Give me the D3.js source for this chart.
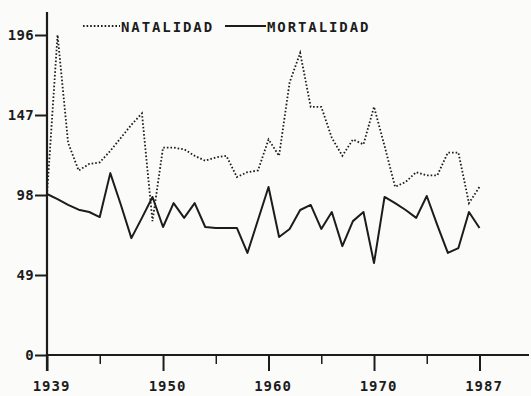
<!DOCTYPE html>
<html>
<head>
<meta charset="utf-8">
<script src="https://cdn.jsdelivr.net/npm/d3@7"></script>
<style>
  html, body { margin: 0; padding: 0; background: #fbfbf9; }
  svg { display: block; }
  text { font-family: "DejaVu Sans Mono", "Liberation Mono", monospace; fill: #1c1c1c; }
</style>
</head>
<body>
<svg id="chart" width="531" height="396"></svg>
<script>
// ---- data ----
const years = d3.range(1939, 1981);
const natalidad = [98, 196, 130, 113, 117, 118, 125, 133, 141, 148, 82,
  127, 127, 126, 122, 119, 121, 122, 109, 112, 113,
  132, 122, 167, 185, 152, 152, 133, 122, 132, 129,
  152, 128, 103, 106, 112, 110, 110, 124, 124, 93, 103];
const mortalidad = [98.6, 95.5, 92, 89, 87.6, 84.5, 111.4, 92, 71.6, 84, 96.8,
  78.4, 93, 84, 93, 78.4, 77.8, 77.8, 77.8, 62.5, 82.7,
  102.9, 72.3, 77.2, 88.8, 91.9, 77.2, 87.6, 66.7, 82, 87.6,
  56.3, 96.8, 93, 88.8, 84, 97.4, 79.6, 62.5, 65.5, 87.6, 77.8];
const yTicks = [0, 49, 98, 147, 196];
const xMajor = [1939, 1950, 1960, 1970, 1980];
const xMajorLabels = ["1939", "1950", "1960", "1970", "1987"];
const xMinor = [1944, 1955, 1965, 1975];
const seriesNames = ["NATALIDAD", "MORTALIDAD"];

// ---- drawing ----
const svg = d3.select("#chart");
const ink = "#1c1c1c";
const x = d3.scaleLinear().domain([1939, 1980]).range([47, 479.5]);
const y = d3.scaleLinear().domain([0, 196]).range([355, 35]);

// axes lines
svg.append("line").attr("x1", x(1939)).attr("x2", 529)
  .attr("y1", y(0)).attr("y2", y(0))
  .attr("stroke", ink).attr("stroke-width", 2.2);
svg.append("line").attr("x1", x(1939)).attr("x2", x(1939))
  .attr("y1", 12).attr("y2", y(0) + 16)
  .attr("stroke", ink).attr("stroke-width", 2.2);

// y axis ticks
const yAxis = d3.axisLeft(y).tickValues(yTicks).tickSize(12).tickPadding(1)
  .tickFormat(d3.format("d"));
const gy = svg.append("g").attr("transform", `translate(${x(1939)},0)`).call(yAxis);
gy.select(".domain").remove();
gy.selectAll(".tick line").attr("stroke", ink).attr("stroke-width", 2);
gy.selectAll(".tick text").attr("font-size", 14).attr("letter-spacing", 0.3)
  .attr("font-weight", "bold")
  .attr("fill", ink).style("font-family", '"DejaVu Sans Mono", monospace');

// x axis major ticks
const xAxis = d3.axisBottom(x).tickValues(xMajor).tickSize(16).tickPadding(10)
  .tickFormat((d, i) => xMajorLabels[i]);
const gx = svg.append("g").attr("transform", `translate(0,${y(0)})`).call(xAxis);
gx.select(".domain").remove();
gx.selectAll(".tick line").attr("stroke", ink).attr("stroke-width", 2);
gx.selectAll(".tick text").attr("font-size", 14).attr("letter-spacing", 1)
  .attr("font-weight", "bold")
  .attr("dx", 4).attr("fill", ink).style("font-family", '"DejaVu Sans Mono", monospace');

// x axis minor ticks
const xAxisMinor = d3.axisBottom(x).tickValues(xMinor).tickSize(9).tickFormat("");
const gxm = svg.append("g").attr("transform", `translate(0,${y(0)})`).call(xAxisMinor);
gxm.select(".domain").remove();
gxm.selectAll(".tick line").attr("stroke", ink).attr("stroke-width", 1.5);

// lines
const line = d3.line().x((d, i) => x(years[i])).y(d => y(d));
svg.append("path").datum(natalidad).attr("d", line)
  .attr("fill", "none").attr("stroke", ink).attr("stroke-width", 1.8)
  .attr("stroke-dasharray", "1.6,2");
svg.append("path").datum(mortalidad).attr("d", line)
  .attr("fill", "none").attr("stroke", ink).attr("stroke-width", 2)
  .attr("stroke-linejoin", "round");

// legend
const lg = svg.append("g");
lg.append("line").attr("x1", 83).attr("x2", 120).attr("y1", 26).attr("y2", 26)
  .attr("stroke", ink).attr("stroke-width", 1.8).attr("stroke-dasharray", "1.6,2");
lg.append("text").attr("x", 121).attr("y", 31.5).attr("font-size", 14)
  .attr("font-weight", "bold")
  .attr("letter-spacing", 1.9).text(seriesNames[0]);
lg.append("line").attr("x1", 225).attr("x2", 266).attr("y1", 26).attr("y2", 26)
  .attr("stroke", ink).attr("stroke-width", 2);
lg.append("text").attr("x", 267).attr("y", 31.5).attr("font-size", 14)
  .attr("font-weight", "bold")
  .attr("letter-spacing", 1.9).text(seriesNames[1]);
</script>
</body>
</html>
